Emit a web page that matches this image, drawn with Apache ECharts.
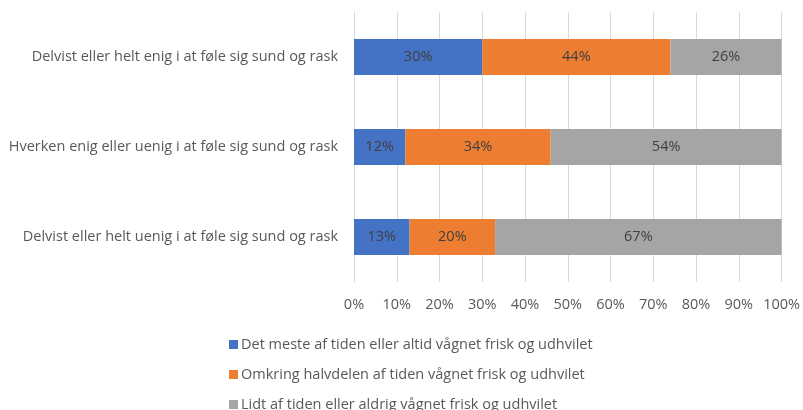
<!DOCTYPE html>
<html>
<head>
<meta charset="utf-8">
<script src="https://cdn.jsdelivr.net/npm/echarts@6/dist/echarts.min.js"></script>
<style>
  html, body { margin: 0; padding: 0; background: #fff; }
  #chart { width: 803px; height: 410px; }
</style>
</head>
<body>
<div id="chart"></div>
<script>
// Categories listed top to bottom
const categories = [
  'Delvist eller helt enig i at føle sig sund og rask',
  'Hverken enig eller uenig i at føle sig sund og rask',
  'Delvist eller helt uenig i at føle sig sund og rask'
];
const seriesNames = [
  'Det meste af tiden eller altid vågnet frisk og udhvilet',
  'Omkring halvdelen af tiden vågnet frisk og udhvilet',
  'Lidt af tiden eller aldrig vågnet frisk og udhvilet'
];
const mostOfTime = [30, 12, 13];
const aboutHalf = [44, 34, 20];
const rarely = [26, 54, 67];
const colors = ['#4472C4', '#ED7D31', '#A5A5A5'];

const FONT = '"Open Sans", "Liberation Sans", sans-serif';
const TEXT = '#595959';
const SIZE = 14.5;

const chart = echarts.init(document.getElementById('chart'), null, { renderer: 'canvas' });

function makeSeries(name, data, color) {
  return {
    name: name,
    type: 'bar',
    stack: 'total',
    data: data,
    barWidth: '40%',
    itemStyle: { color: color },
    label: {
      show: true,
      position: 'inside',
      formatter: '{c}%',
      color: '#404040',
      fontFamily: FONT,
      fontSize: SIZE
    }
  };
}

chart.setOption({
  animation: false,
  backgroundColor: '#fff',
  grid: { left: 354, right: 21, top: 12, bottom: 128, containLabel: false },
  xAxis: {
    type: 'value',
    min: 0,
    max: 100,
    interval: 10,
    axisLabel: { formatter: '{value}%', color: TEXT, fontFamily: FONT, fontSize: SIZE, margin: 15 },
    axisLine: { show: false },
    axisTick: { show: false },
    splitLine: { show: true, lineStyle: { color: '#D9D9D9', width: 1 } }
  },
  yAxis: {
    type: 'category',
    inverse: true,
    data: categories,
    axisLine: { show: true, lineStyle: { color: '#D9D9D9' } },
    axisTick: { show: false },
    axisLabel: { color: TEXT, fontFamily: FONT, fontSize: SIZE, margin: 16 }
  },
  legend: {
    orient: 'vertical',
    left: 224,
    top: 332,
    height: 140,
    itemWidth: 9,
    itemHeight: 9,
    itemGap: 15,
    icon: 'rect',
    textStyle: { color: TEXT, fontFamily: FONT, fontSize: SIZE, padding: [0, 0, 0, -2] },
    data: seriesNames
  },
  series: [
    makeSeries(seriesNames[0], mostOfTime, colors[0]),
    makeSeries(seriesNames[1], aboutHalf, colors[1]),
    makeSeries(seriesNames[2], rarely, colors[2])
  ]
});
</script>
</body>
</html>
